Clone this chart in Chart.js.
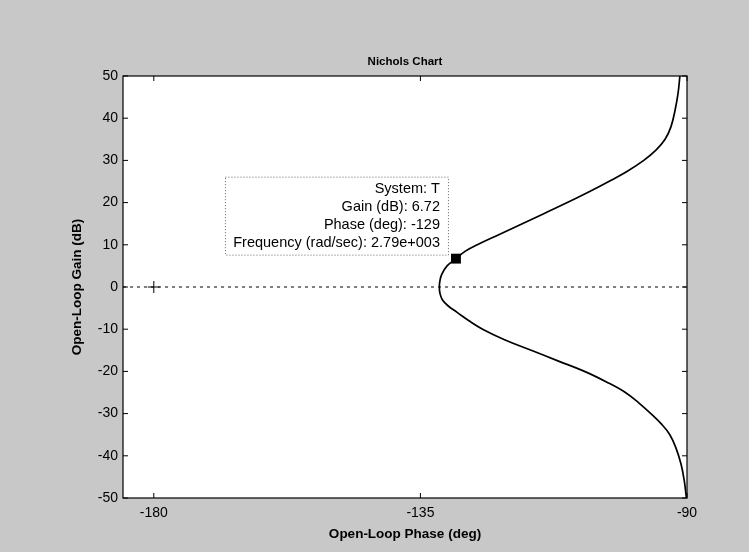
<!DOCTYPE html>
<html>
<head>
<meta charset="utf-8">
<title>Nichols Chart</title>
<script src="https://cdn.jsdelivr.net/npm/chart.js@4/dist/chart.umd.min.js"></script>
<style>
  html, body { margin: 0; padding: 0; background: #c8c8c8; }
  #wrap { width: 749px; height: 552px; }
</style>
</head>
<body>
<div id="wrap"><canvas id="nichols"></canvas></div>
<script>
// open-loop response of T: upper branch from the top down to the nose, then the lower branch
const phaseDeg = [
  -91.2, -91.5, -92.0, -92.7, -93.7, -95.2, -97.3, -100.0, -103.2, -106.6,
  -110.2, -114.0, -117.8, -121.6, -125.4, -127.4, -129.0, -130.5, -131.4, -131.7,
  -131.8,
  -131.7, -131.3, -130.3, -128.8, -126.8, -124.5, -120.8, -116.3, -111.8, -107.3,
  -103.6, -100.4, -98.1, -96.1, -94.3, -92.9, -91.9, -91.0, -90.45, -90.1
];
const gainDb = [
  50, 46, 42, 38, 35, 32.5, 30, 27.5, 25, 22.5,
  20, 17.5, 15, 12.5, 10, 8.5, 6.72, 5, 3, 1.5,
  0,
  -1.5, -3, -4.5, -6, -8, -10, -12.5, -15, -17.5, -20,
  -22.5, -25, -27.5, -30, -32.5, -35, -38, -42, -46, -50
];

const phaseTicks = [-180, -135, -90];
const gainTicks = [-50, -40, -30, -20, -10, 0, 10, 20, 30, 40, 50];
const phaseRange = [-185.2, -90];

// critical point (-180 deg, 0 dB)
const criticalPhase = -180;
const criticalGain = 0;

// data tip
const tipSystem = "T";
const tipGain = 6.72;
const tipPhase = -129;
const tipFreq = "2.79e+003";

const FONT = "'Liberation Sans', Arial, sans-serif";
Chart.defaults.font.family = FONT;
Chart.defaults.color = "#000";

const curve = phaseDeg.map((p, i) => ({ x: p, y: gainDb[i] }));

// grey figure, white axes, box frame with inward ticks, title, data tip box
const framePlugin = {
  id: "frame",
  beforeDraw(chart) {
    const { ctx, chartArea: a } = chart;
    ctx.save();
    ctx.fillStyle = "#c8c8c8";
    ctx.fillRect(0, 0, chart.width, chart.height);
    ctx.fillStyle = "#fff";
    ctx.fillRect(a.left, a.top, a.right - a.left, a.bottom - a.top);
    ctx.restore();
  },
  afterDraw(chart) {
    const { ctx, chartArea: a, scales } = chart;
    const tl = 5;
    ctx.save();
    ctx.strokeStyle = "#000";
    ctx.lineWidth = 1.2;
    ctx.strokeRect(a.left, a.top, a.right - a.left, a.bottom - a.top);
    ctx.lineWidth = 1;
    ctx.beginPath();
    scales.x.ticks.forEach(t => {
      const px = scales.x.getPixelForValue(t.value);
      ctx.moveTo(px, a.bottom); ctx.lineTo(px, a.bottom - tl);
      ctx.moveTo(px, a.top); ctx.lineTo(px, a.top + tl);
    });
    scales.y.ticks.forEach(t => {
      const py = scales.y.getPixelForValue(t.value);
      ctx.moveTo(a.left, py); ctx.lineTo(a.left + tl, py);
      ctx.moveTo(a.right, py); ctx.lineTo(a.right - tl, py);
    });
    ctx.stroke();

    // title over the axes box
    ctx.fillStyle = "#000";
    ctx.font = "bold 11.5px " + FONT;
    ctx.textAlign = "center";
    ctx.textBaseline = "middle";
    ctx.fillText("Nichols Chart", (a.left + a.right) / 2, a.top - 14);

    // data tip sits up and to the left of the marker
    const mx = scales.x.getPixelForValue(tipPhase);
    const my = scales.y.getPixelForValue(tipGain);
    const right = mx - 8, bottom = my - 4;
    const w = 223, h = 78;
    ctx.fillStyle = "#fff";
    ctx.fillRect(right - w, bottom - h, w, h);
    ctx.setLineDash([1, 2]);
    ctx.strokeStyle = "#666";
    ctx.strokeRect(right - w + 0.5, bottom - h + 0.5, w, h);
    ctx.setLineDash([]);
    const lines = [
      "System: " + tipSystem,
      "Gain (dB): " + tipGain,
      "Phase (deg): " + tipPhase,
      "Frequency (rad/sec): " + tipFreq
    ];
    ctx.fillStyle = "#000";
    ctx.font = "14.5px " + FONT;
    ctx.textAlign = "right";
    lines.forEach((s, i) => ctx.fillText(s, right - 8, bottom - h + 12.5 + i * 17.8));
    ctx.restore();
  }
};

new Chart(document.getElementById("nichols"), {
  type: "scatter",
  data: {
    datasets: [
      {
        // 0 dB line
        data: [{ x: phaseRange[0], y: 0 }, { x: phaseRange[1], y: 0 }],
        showLine: true,
        borderColor: "#000",
        borderWidth: 1,
        borderDash: [3, 4],
        pointRadius: 0
      },
      {
        data: [{ x: criticalPhase, y: criticalGain }],
        pointStyle: "cross",
        pointRadius: 6,
        borderColor: "#000",
        borderWidth: 1
      },
      {
        data: curve,
        showLine: true,
        borderColor: "#000",
        borderWidth: 1.7,
        tension: 0.4,
        pointRadius: 0
      },
      {
        data: [{ x: tipPhase, y: tipGain }],
        pointStyle: "rect",
        pointRadius: 7,
        backgroundColor: "#000",
        borderColor: "#000",
        borderWidth: 0
      }
    ]
  },
  options: {
    animation: false,
    responsive: true,
    maintainAspectRatio: false,
    layout: { padding: { top: 76, right: 62, left: 0, bottom: 0 } },
    plugins: {
      legend: { display: false },
      tooltip: { enabled: false }
    },
    scales: {
      x: {
        type: "linear",
        min: phaseRange[0],
        max: phaseRange[1],
        afterBuildTicks: s => { s.ticks = phaseTicks.map(v => ({ value: v })); },
        afterFit: s => { s.height = 54; },
        grid: { display: false, drawTicks: false, tickLength: 0 },
        border: { display: false },
        ticks: { font: { size: 14 }, padding: 7, autoSkip: false, maxRotation: 0 },
        title: {
          display: true,
          text: "Open-Loop Phase (deg)",
          font: { size: 13.5, weight: "bold" },
          padding: { top: 0, bottom: 10 }
        }
      },
      y: {
        type: "linear",
        min: -50,
        max: 50,
        afterBuildTicks: s => { s.ticks = gainTicks.map(v => ({ value: v })); },
        afterFit: s => { s.width = 123; },
        grid: { display: false, drawTicks: false, tickLength: 0 },
        border: { display: false },
        ticks: { font: { size: 14 }, padding: 5 },
        title: {
          display: true,
          text: "Open-Loop Gain (dB)",
          font: { size: 13.5, weight: "bold" },
          padding: { top: 69, bottom: 0 }
        }
      }
    }
  },
  plugins: [framePlugin]
});
</script>
</body>
</html>
